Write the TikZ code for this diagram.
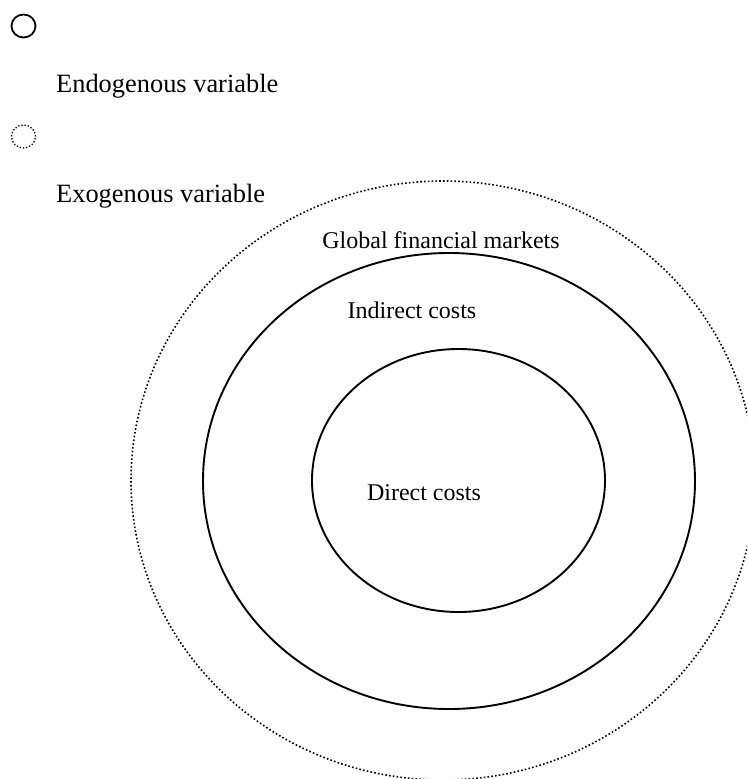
\documentclass[tikz,border=0pt]{standalone}
\usepackage{fontspec}
\setmainfont{Liberation Serif}
\usetikzlibrary{shapes.geometric}
\begin{document}
\begin{tikzpicture}[x=1pt,y=-1pt,
  solidring/.style={draw=black, line width=1.9pt, ellipse, inner sep=0pt, outer sep=0pt},
  dotring/.style={draw=black, line width=1.6pt, ellipse, inner sep=0pt, outer sep=0pt,
                  dash pattern=on 1.6pt off 2.2pt},
  legendtext/.style={anchor=base west, inner sep=0pt, font=\fontsize{26.4}{30}\selectfont},
  ringlabel/.style={anchor=base, inner sep=0pt, font=\fontsize{24}{28}\selectfont}]
  \useasboundingbox (0,0) rectangle (747,779);
  \clip (0,0) rectangle (747,779);
  % legend
  \node[solidring, line width=1.8pt, minimum width=24pt, minimum height=23pt] (endosym) at (23.5,26) {};
  \node[legendtext] (endotext) at (56,92) {Endogenous variable};
  \node[dotring, line width=1.3pt, dash pattern=on 1.3pt off 1.9pt, minimum width=24pt, minimum height=23pt] (exosym) at (23.5,136.5) {};
  \node[legendtext] (exotext) at (56,202) {Exogenous variable};
  % nested cost rings
  \node[dotring, minimum width=624pt, minimum height=599pt] (global) at (443,480.5) {};
  \node[solidring, minimum width=492pt, minimum height=456pt] (indirect) at (449,481) {};
  \node[solidring, minimum width=293pt, minimum height=263pt] (direct) at (458.5,480.5) {};
  % labels
  \node[ringlabel] (globallbl) at (441,248) {Global financial markets};
  \node[ringlabel] (indirectlbl) at (412,318) {Indirect costs};
  \node[ringlabel] (directlbl) at (424,500) {Direct costs};
\end{tikzpicture}
\end{document}
